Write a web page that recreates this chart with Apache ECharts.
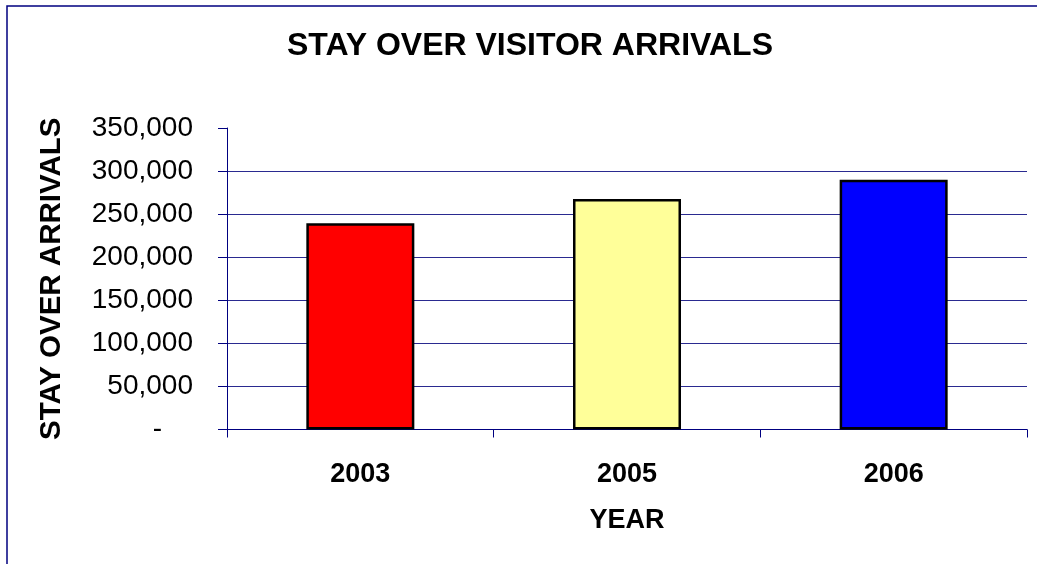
<!DOCTYPE html>
<html>
<head>
<meta charset="utf-8">
<script src="https://cdn.jsdelivr.net/npm/echarts@6/dist/echarts.min.js"></script>
<style>
html,body{margin:0;padding:0;background:#fff;}
#chart{width:1037px;height:564px;}
</style>
</head>
<body>
<div id="chart"></div>
<script>
const years = ['2003', '2005', '2006'];
const arrivals = [239500, 267500, 289900];
const barColors = ['#FF0000', '#FFFF99', '#0000FF'];

const FONT = '"Liberation Sans", Arial, sans-serif';
const chart = echarts.init(document.getElementById('chart'), null, {renderer: 'canvas'});
chart.setOption({
  animation: false,
  backgroundColor: '#ffffff',
  title: {
    text: 'STAY OVER VISITOR ARRIVALS',
    left: 525,
    top: 25,
    textAlign: 'center',
    textStyle: {fontFamily: FONT, fontSize: 32, fontWeight: 'bold', color: '#000'}
  },
  graphic: [{
    type: 'rect',
    shape: {x: 7, y: 6, width: 1200, height: 800},
    style: {fill: 'none', stroke: '#000080', lineWidth: 1.5},
    silent: true
  }],
  grid: {left: 227, right: 10, top: 128, bottom: 134.5, containLabel: false},
  xAxis: {
    type: 'category',
    data: years,
    name: 'YEAR',
    nameLocation: 'middle',
    nameGap: 78,
    nameTextStyle: {fontFamily: FONT, fontSize: 27, fontWeight: 'bold', color: '#000'},
    axisLine: {lineStyle: {color: '#000080', width: 1}},
    axisTick: {show: true, length: 8, lineStyle: {color: '#000080'}},
    axisLabel: {fontFamily: FONT, fontSize: 27, fontWeight: 'bold', color: '#000', margin: 32}
  },
  yAxis: {
    type: 'value',
    min: 0,
    max: 350000,
    interval: 50000,
    name: 'STAY OVER ARRIVALS',
    nameLocation: 'middle',
    nameRotate: 90,
    nameGap: 160,
    nameTextStyle: {fontFamily: FONT, fontSize: 29.5, fontWeight: 'bold', color: '#000'},
    axisLine: {show: true, lineStyle: {color: '#000080', width: 1}},
    axisTick: {show: true, length: 9, lineStyle: {color: '#000080'}},
    axisLabel: {
      fontFamily: FONT, fontSize: 28, color: '#000', margin: 34,
      formatter: function (v) {
        return v === 0 ? '{d|-}' : v.toLocaleString('en-US');
      },
      rich: {d: {fontFamily: FONT, fontSize: 28, color: '#000', padding: [0, 31, 0, 0]}}
    },
    splitLine: {show: true, showMinLine: false, showMaxLine: false, lineStyle: {color: '#2a2a90', width: 1}}
  },
  series: [{
    type: 'bar',
    data: arrivals.map((v, i) => ({value: v, itemStyle: {color: barColors[i]}})),
    barWidth: 108,
    itemStyle: {borderColor: '#000', borderWidth: 2.5}
  }]
});
</script>
</body>
</html>
